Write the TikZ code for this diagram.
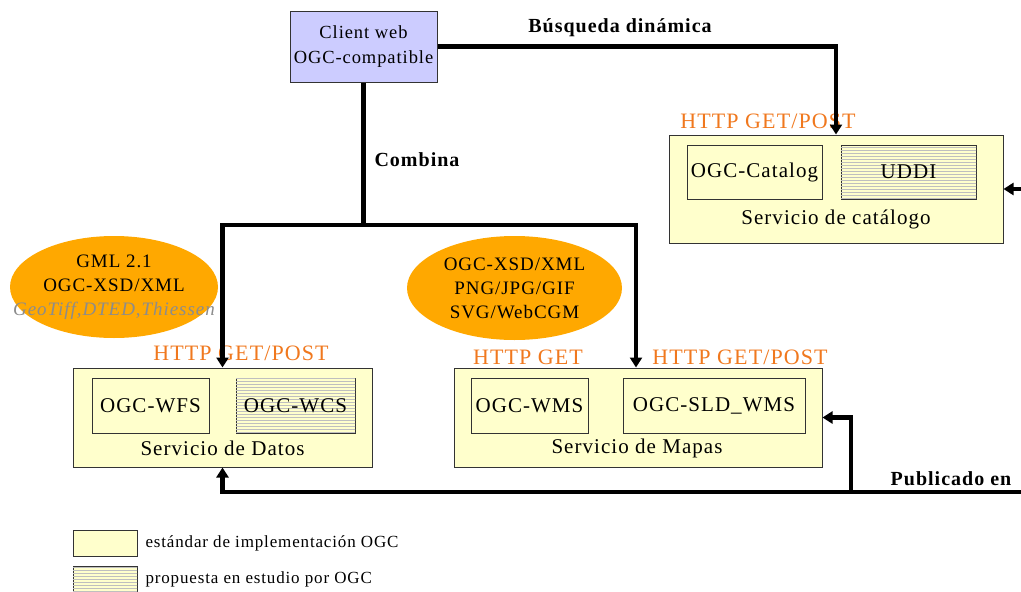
\documentclass[tikz,border=0pt]{standalone}
\usepackage{fontspec}
\setmainfont{Liberation Serif}[LetterSpace=5]
\usetikzlibrary{arrows.meta,shapes.geometric,patterns}
\definecolor{stdyellow}{RGB}{255,255,204}
\definecolor{clientblue}{RGB}{204,204,255}
\definecolor{formatorange}{RGB}{255,168,0}
\definecolor{httporange}{RGB}{240,120,30}
\begin{document}
\begin{tikzpicture}[x = 1pt, y = -1pt,
  service/.style = {draw = black!80, line width = 1pt, fill = stdyellow, inner sep = 0},
  standard/.style = {service},
  proposal/.style = {service, postaction = {pattern = horizontal lines, pattern color = black!25}},
  client/.style = {draw = black!80, line width = 1pt, fill = clientblue, align = center, inner sep = 0,
    minimum width = 147, minimum height = 71, font = \fontsize{18.5}{25}\selectfont},
  format/.style = {ellipse, fill = formatorange, align = center, inner xsep = -30pt, inner ysep = 0,
    font = \fontsize{19}{24}\selectfont},
  http/.style = {text = httporange, font = \fontsize{22}{24}\selectfont},
  lbl/.style = {font = \fontsize{21}{24}\selectfont},
  conlbl/.style = {font = \bfseries\fontsize{20}{24}\selectfont},
  legtext/.style = {anchor = west, font = \fontsize{17}{20}\selectfont},
  conn/.style = {line width = 4.5pt, line join = miter, -{Triangle[width = 12pt, length = 10pt]}}]
\useasboundingbox (0, 0) rectangle (1021, 592);

\node[client] (client) at (363.5, 46.5) {\raisebox{-3pt}{Client web}\\\raisebox{-3pt}{OGC-compatible}};

\node[service, minimum width = 334, minimum height = 108] (catalog) at (836, 189) {};
\node[standard, minimum width = 135, minimum height = 54, lbl] (ogccat) at (754.5, 172) {OGC-Catalog};
\node[proposal, minimum width = 135, minimum height = 54, lbl] (uddi) at (908.5, 172) {UDDI};
\node[lbl] (catname) at (836, 219) {Servicio de catálogo};
\node[http] (catproto) at (768, 121) {HTTP GET/POST};

\node[service, minimum width = 299, minimum height = 99] (datos) at (222.5, 417.5) {};
\node[standard, minimum width = 117, minimum height = 55, lbl] (wfs) at (150.5, 405.5) {OGC-WFS};
\node[proposal, minimum width = 119, minimum height = 55, lbl] (wcs) at (295.5, 405.5) {OGC-WCS};
\node[lbl] (datosname) at (222.5, 448) {Servicio de Datos};
\node[http] (datosproto) at (241, 353) {HTTP GET/POST};

\node[service, minimum width = 368, minimum height = 99] (mapas) at (638, 417.5) {};
\node[standard, minimum width = 117, minimum height = 55, lbl] (wms) at (529.5, 405.5) {OGC-WMS};
\node[standard, minimum width = 182, minimum height = 55, lbl] (sld) at (714, 405.5) {OGC-SLD\_WMS};
\node[lbl] (mapasname) at (637, 448) {Servicio de Mapas};
\node[http] (wmsproto) at (528, 357) {HTTP GET};
\node[http] (sldproto) at (740, 357) {HTTP GET/POST};

\node[format, minimum width = 208, minimum height = 102] (datosfmt) at (114, 287)
  {GML 2.1\\OGC-XSD/XML\\{\color{black!45}\itshape GeoTiff,DTED,Thiessen}};
\node[format, minimum width = 215, minimum height = 104] (mapasfmt) at (514.5, 288)
  {OGC-XSD/XML\\PNG/JPG/GIF\\SVG/WebCGM};

\coordinate (split) at (363.5, 225);
\coordinate (pubin) at (1021, 492);
\coordinate (branch) at (851, 492);
\coordinate (catin) at (1021, 189);

\draw[conn] (client.east) -| (catalog.north);
\draw[line width = 4.5pt] (client.south) -- (split);
\draw[conn] (split) -| (datos.north);
\draw[conn] (split) -| ([xshift = -2pt]mapas.north);
\draw[conn] (pubin) -| (datos.south);
\draw[conn] (branch) |- (mapas.east);
\draw[conn] (catin) -- (catalog.east);

\node[conlbl] (busqueda) at (620, 28) {Búsqueda dinámica};
\node[conlbl] (combina) at (417, 160) {Combina};
\node[conlbl] (publicado) at (951, 479) {Publicado en};

\node[standard, minimum width = 64, minimum height = 26] (legstd) at (105, 543) {};
\node[legtext] (legstdtext) at (142, 543) {estándar de implementación OGC};
\node[proposal, minimum width = 64, minimum height = 26] (legprop) at (105, 579) {};
\node[legtext] (legproptext) at (142, 579) {propuesta en estudio por OGC};
\end{tikzpicture}
\end{document}
